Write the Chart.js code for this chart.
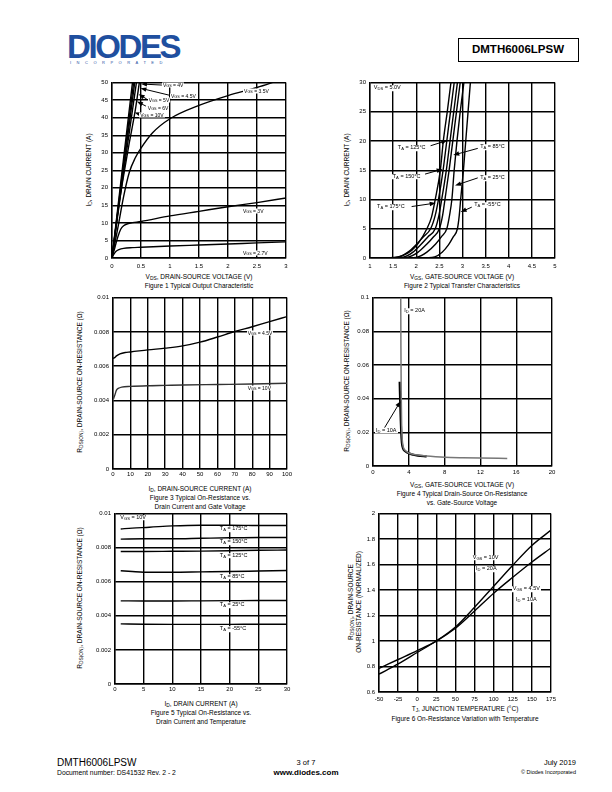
<!DOCTYPE html>
<html>
<head>
<meta charset="utf-8">
<script src="https://cdn.jsdelivr.net/npm/chart.js@4.4.1/dist/chart.umd.min.js"></script>
<style>
body { margin:0; width:612px; height:792px; position:relative; background:#fff; color:#000;
       font-family:"Liberation Sans", Arial, sans-serif; overflow:hidden; }
canvas { position:absolute; }
.t { position:absolute; white-space:nowrap; line-height:1; }
.c { transform:translate(-50%,-50%); }
.r { transform:translate(-50%,-50%) rotate(-90deg); }
.ax { font-size:6.5px; }
.lab { position:absolute; white-space:nowrap; line-height:1; background:#fff; padding:0 1px; transform:translateY(-50%); }
sub { font-size:75%; vertical-align:-0.25em; line-height:0; }
</style>
</head>
<body>

<!-- header -->
<div class="t" style="left:67px;top:29.5px;font-size:33px;font-weight:bold;color:#1f4f9f;letter-spacing:-2.4px;">DIODES</div>
<div class="t" style="left:70px;top:61px;font-size:4px;color:#1f4f9f;letter-spacing:5.5px;">INCORPORATED</div>
<div style="position:absolute;left:458px;top:38px;width:119px;height:22px;border:1px solid #000;"></div>
<div class="t c" style="left:518px;top:50px;font-size:11.5px;font-weight:bold;">DMTH6006LPSW</div>

<!-- axis titles and captions -->
<div class="t c ax" style="left:199px;top:277px;">V<sub>DS</sub>, DRAIN-SOURCE VOLTAGE (V)</div>
<div class="t c ax" style="left:199px;top:286px;">Figure 1 Typical Output Characteristic</div>
<div class="t r ax" style="left:89px;top:170px;">I<sub>D</sub>, DRAIN CURRENT (A)</div>

<div class="t c ax" style="left:462px;top:277px;">V<sub>GS</sub>, GATE-SOURCE VOLTAGE (V)</div>
<div class="t c ax" style="left:462px;top:286px;">Figure 2 Typical Transfer Characteristics</div>
<div class="t r ax" style="left:347px;top:170px;">I<sub>D</sub>, DRAIN CURRENT (A)</div>

<div class="t c ax" style="left:200px;top:489px;">I<sub>D</sub>, DRAIN-SOURCE CURRENT (A)</div>
<div class="t c ax" style="left:200px;top:498px;">Figure 3 Typical On-Resistance vs.</div>
<div class="t c ax" style="left:200px;top:507px;">Drain Current and Gate Voltage</div>
<div class="t r ax" style="left:80px;top:382px;">R<sub>DS(ON)</sub>, DRAIN-SOURCE ON-RESISTANCE (Ω)</div>

<div class="t c ax" style="left:462px;top:485px;">V<sub>GS</sub>, GATE-SOURCE VOLTAGE (V)</div>
<div class="t c ax" style="left:462px;top:494px;">Figure 4 Typical Drain-Source On-Resistance</div>
<div class="t c ax" style="left:462px;top:503px;">vs. Gate-Source Voltage</div>
<div class="t r ax" style="left:347px;top:381px;">R<sub>DS(ON)</sub>, DRAIN-SOURCE ON-RESISTANCE (Ω)</div>

<div class="t c ax" style="left:201px;top:704px;">I<sub>D</sub>, DRAIN CURRENT (A)</div>
<div class="t c ax" style="left:201px;top:713px;">Figure 5 Typical On-Resistance vs.</div>
<div class="t c ax" style="left:201px;top:722px;">Drain Current and Temperature</div>
<div class="t r ax" style="left:80px;top:598px;">R<sub>DS(ON)</sub>, DRAIN-SOURCE ON-RESISTANCE (Ω)</div>

<div class="t c ax" style="left:465px;top:709px;">T<sub>J</sub>, JUNCTION TEMPERATURE (°C)</div>
<div class="t c ax" style="left:465px;top:719px;">Figure 6 On-Resistance Variation with Temperature</div>
<div class="t r ax" style="left:351px;top:602px;">R<sub>DS(ON)</sub>, DRAIN-SOURCE</div>
<div class="t r ax" style="left:359px;top:602px;">ON-RESISTANCE (NORMALIZED)</div>

<!-- footer -->
<div class="t" style="left:57px;top:758px;font-size:10px;">DMTH6006LPSW</div>
<div class="t" style="left:57px;top:769.5px;font-size:6.8px;">Document number: DS41532 Rev. 2 - 2</div>
<div class="t c" style="left:306px;top:763px;font-size:7.5px;">3 of 7</div>
<div class="t c" style="left:306px;top:773px;font-size:8px;font-weight:bold;">www.diodes.com</div>
<div class="t" style="right:36px;top:759px;font-size:7.5px;">July 2019</div>
<div class="t" style="right:36px;top:770px;font-size:5.5px;">© Diodes Incorporated</div>

<script>
// ---- Figure 1: output characteristic, [VDS, ID]
const f1xTicks = [0, 0.5, 1, 1.5, 2, 2.5, 3];
const f1yTicks = [0, 5, 10, 15, 20, 25, 30, 35, 40, 45, 50];
const vgs10 = [[0,0],[0.2,28.5],[0.36,51]];
const vgs6  = [[0,0],[0.2,27],[0.38,51]];
const vgs5  = [[0,0],[0.2,25.8],[0.40,51]];
const vgs45 = [[0,0],[0.2,24.5],[0.43,51]];
const vgs4  = [[0,0],[0.1,13],[0.2,23.5],[0.3,33],[0.4,42],[0.48,51]];
const vgs35 = [[0,0],[0.1,8.5],[0.2,17.5],[0.3,24.5],[0.4,28.5],[0.5,31.3],[0.7,35.7],[1,39.7],[1.5,43.5],[2,46.3],[2.5,48.6],[2.85,50.5]];
const vgs3  = [[0,0],[0.05,3],[0.1,6],[0.15,8.2],[0.2,9.2],[0.3,9.9],[0.5,10.4],[1,12],[1.5,13.3],[2,14.6],[2.5,15.8],[3,17.1]];
const vgs27 = [[0,0],[0.03,1],[0.07,1.9],[0.12,2.4],[0.2,2.75],[0.35,2.95],[0.5,3.05],[1,3.4],[1.5,3.7],[2,4.0],[2.5,4.3],[3,4.6]];

// ---- Figure 2: transfer characteristic, [VGS, ID]
const f2xTicks = [1, 1.5, 2, 2.5, 3, 3.5, 4, 4.5, 5];
const f2yTicks = [0, 5, 10, 15, 20, 25, 30];
const ta175 = [[1.3,0],[1.5,0.08],[1.7,0.4],[1.9,1.3],[2.05,2.6],[2.23,5],[2.33,7],[2.41,10],[2.52,15],[2.585,20],[2.67,25],[2.75,30]];
const ta150 = [[1.4,0],[1.6,0.1],[1.82,1],[2.0,2.3],[2.15,3.6],[2.31,5],[2.41,7.3],[2.48,10],[2.58,15],[2.66,20],[2.74,25],[2.82,30]];
const ta125 = [[1.5,0],[1.7,0.1],[1.93,1],[2.1,2.3],[2.25,3.6],[2.41,5],[2.49,7.3],[2.55,10],[2.65,15],[2.73,20],[2.81,25],[2.89,30]];
const ta85  = [[1.6,0],[1.8,0.1],[2.04,1],[2.22,2.3],[2.37,3.6],[2.5,5],[2.57,7.3],[2.62,10],[2.71,15],[2.79,20],[2.87,25],[2.95,30]];
const ta25  = [[1.8,0],[2.0,0.1],[2.23,1],[2.42,2.4],[2.55,3.7],[2.66,5],[2.72,7.3],[2.77,10],[2.82,15],[2.88,20],[2.95,25],[3.03,30]];
const tam55 = [[2.2,0],[2.4,0.2],[2.56,1],[2.7,2.3],[2.8,3.6],[2.89,5],[2.93,7.3],[2.96,10],[3.02,15],[3.07,20],[3.12,25],[3.17,30]];

// ---- Figure 3: RDS(ON) vs ID, [ID, R]
const f3xTicks = [0, 10, 20, 30, 40, 50, 60, 70, 80, 90, 100];
const f3yTicks = [0, 0.002, 0.004, 0.006, 0.008, 0.01];
const ron45 = [[0,0.00645],[1,0.0065],[2,0.0066],[4,0.00672],[7,0.0068],[10,0.00683],[20,0.00695],[30,0.00705],[40,0.00718],[50,0.0074],[60,0.0077],[70,0.00802],[80,0.0083],[90,0.0086],[100,0.00889]];
const ron10 = [[0.3,0.0041],[1,0.0043],[2,0.0046],[3,0.0047],[5,0.00478],[10,0.00482],[20,0.00486],[30,0.00488],[40,0.0049],[60,0.00493],[80,0.00496],[100,0.005]];

// ---- Figure 4: RDS(ON) vs VGS, [VGS, R]
const f4xTicks = [0, 4, 8, 12, 16, 20];
const f4yTicks = [0, 0.02, 0.04, 0.06, 0.08, 0.1];
const id20 = [[3.1,0.1],[3.12,0.07],[3.15,0.045],[3.2,0.025],[3.28,0.015],[3.4,0.011],[3.7,0.0088],[4,0.0077],[4.5,0.007],[5,0.0065],[6,0.0059],[7,0.0055],[8,0.0052],[10,0.0049],[12,0.0047],[15,0.0045]];
const id10 = [[2.98,0.05],[3.0,0.045],[3.05,0.035],[3.1,0.027],[3.15,0.02],[3.22,0.014],[3.35,0.0105],[3.6,0.0088],[4,0.0075],[4.5,0.0067],[5,0.0062],[6,0.0057]];

// ---- Figure 5: RDS(ON) vs ID and temperature, [ID, R]
const f5xTicks = [0, 5, 10, 15, 20, 25, 30];
const f5yTicks = [0, 0.002, 0.004, 0.006, 0.008, 0.01];
const r175 = [[1,0.0091],[3,0.00915],[6,0.0092],[10,0.00928],[15,0.00932],[20,0.00932],[25,0.0093],[30,0.0093]];
const r150 = [[1,0.0085],[5,0.00852],[10,0.00852],[15,0.00855],[20,0.00858],[25,0.0086],[30,0.0086]];
const r125 = [[1,0.00778],[5,0.00778],[10,0.00779],[15,0.0078],[20,0.00782],[25,0.00785],[30,0.00786]];
const r85  = [[1,0.00665],[3,0.0066],[5,0.00656],[10,0.00656],[15,0.00658],[20,0.0066],[25,0.00663],[30,0.00666]];
const r25  = [[1,0.00488],[5,0.00487],[10,0.00487],[15,0.00488],[20,0.00489],[25,0.0049],[30,0.0049]];
const rm55 = [[1,0.00353],[5,0.00351],[10,0.0035],[15,0.0035],[20,0.0035],[25,0.00351],[30,0.00351]];

// ---- Figure 6: normalized RDS(ON) vs TJ, [TJ, norm]
const f6xTicks = [-50, -25, 0, 25, 50, 75, 100, 125, 150, 175];
const f6yTicks = [0.6, 0.8, 1, 1.2, 1.4, 1.6, 1.8, 2];
const n10 = [[-50,0.74],[-25,0.82],[0,0.91],[25,1.0],[50,1.11],[75,1.265],[100,1.43],[125,1.595],[150,1.75],[175,1.87]];
const n45 = [[-50,0.785],[-25,0.855],[0,0.925],[25,1.0],[50,1.1],[75,1.235],[100,1.375],[125,1.5],[150,1.62],[175,1.73]];

// arrows: [fromX, fromY, toX, toY] in data units, head at "to"
var arrowPlugin = {
    id: 'arrows',
    afterDatasetsDraw: function (chart, args, opts) {
        var ctx = chart.ctx, xs = chart.scales.x, ys = chart.scales.y;
        (opts.list || []).forEach(function (a) {
            var x1 = xs.getPixelForValue(a[0]), y1 = ys.getPixelForValue(a[1]);
            var x2 = xs.getPixelForValue(a[2]), y2 = ys.getPixelForValue(a[3]);
            var ang = Math.atan2(y2 - y1, x2 - x1), c = Math.cos(ang), s = Math.sin(ang);
            ctx.save();
            ctx.strokeStyle = '#000'; ctx.fillStyle = '#000'; ctx.lineWidth = 1;
            ctx.beginPath(); ctx.moveTo(x1, y1); ctx.lineTo(x2 - 4 * c, y2 - 4 * s); ctx.stroke();
            ctx.beginPath(); ctx.moveTo(x2, y2);
            ctx.lineTo(x2 - 6 * c + 2.3 * s, y2 - 6 * s - 2.3 * c);
            ctx.lineTo(x2 - 6 * c - 2.3 * s, y2 - 6 * s + 2.3 * c);
            ctx.closePath(); ctx.fill();
            ctx.restore();
        });
    }
};

function axis(ticks, pad, fit) {
    return {
        type: 'linear', min: ticks[0], max: ticks[ticks.length - 1],
        afterBuildTicks: function (s) { s.ticks = ticks.map(function (v) { return { value: v }; }); },
        afterFit: fit,
        grid: { color: '#000', lineWidth: 1.4, drawTicks: false },
        border: { color: '#000', width: 1.4 },
        ticks: { color: '#000', font: { family: 'Liberation Sans', size: 6 }, padding: pad,
                 autoSkip: false, maxRotation: 0, callback: function (v) { return String(v); } }
    };
}

function plot(area, xTicks, yTicks, xpad, series, labels, arrows, labSize) {
    var yw = 30, pt = 6, pr = 12, xh = 14;
    var L = area[0], T = area[1], R = area[2], B = area[3];
    var cv = document.createElement('canvas');
    cv.width = R - L + yw + pr; cv.height = B - T + pt + xh;
    cv.style.left = (L - yw) + 'px'; cv.style.top = (T - pt) + 'px';
    document.body.appendChild(cv);

    var chart = new Chart(cv.getContext('2d'), {
        type: 'scatter',
        data: {
            datasets: series.map(function (s) {
                return {
                    data: s[0].map(function (p) { return { x: p[0], y: p[1] }; }),
                    showLine: true, pointRadius: 0, borderColor: s[1] || '#000',
                    borderWidth: s[2] || 1.4, cubicInterpolationMode: 'monotone', fill: false
                };
            })
        },
        options: {
            responsive: false, animation: false, devicePixelRatio: 1,
            layout: { padding: { top: pt, right: pr, left: 0, bottom: 0 } },
            scales: {
                x: axis(xTicks, xpad, function (s) { s.height = xh; }),
                y: axis(yTicks, 4, function (s) { s.width = yw; })
            },
            plugins: { legend: { display: false }, tooltip: { enabled: false }, arrows: { list: arrows } }
        },
        plugins: [arrowPlugin]
    });

    labels.forEach(function (lb) {
        var d = document.createElement('div');
        d.className = 'lab';
        d.style.fontSize = labSize + 'px';
        d.style.left = (L - yw + chart.scales.x.getPixelForValue(lb[0])) + 'px';
        d.style.top = (T - pt + chart.scales.y.getPixelForValue(lb[1])) + 'px';
        d.innerHTML = lb[2];
        document.body.appendChild(d);
    });
    return chart;
}

plot([112, 81, 286, 258], f1xTicks, f1yTicks, 5,
    [[vgs27], [vgs3], [vgs35], [vgs4], [vgs45], [vgs5], [vgs6], [vgs10]],
    [[0.86, 49.4, 'V<sub>GS</sub> = 4V'], [1.0, 46.3, 'V<sub>GS</sub> = 4.5V'], [0.615, 44.9, 'V<sub>GS</sub> = 5V'],
     [0.60, 42.9, 'V<sub>GS</sub> = 6V'], [0.47, 40.9, 'V<sub>GS</sub> = 10V'], [2.26, 47.5, 'V<sub>GS</sub> = 3.5V'],
     [2.24, 13.3, 'V<sub>GS</sub> = 3V'], [2.24, 1.4, 'V<sub>GS</sub> = 2.7V']],
    [[0.86, 49.3, 0.5, 49.6], [0.99, 46.4, 0.49, 48.4], [0.6, 45.3, 0.46, 46.7], [0.585, 43.3, 0.43, 44.6], [0.46, 41.1, 0.39, 41.5]],
    5);

plot([370, 81, 555, 258], f2xTicks, f2yTicks, 5,
    [[ta175], [ta150], [ta125], [ta85], [ta25], [tam55]],
    [[1.06, 29.0, 'V<sub>DS</sub> = 5.0V'], [1.58, 18.8, 'T<sub>A</sub> = 125°C'], [3.36, 18.9, 'T<sub>A</sub> = 85°C'],
     [1.47, 13.9, 'T<sub>A</sub> = 150°C'], [3.36, 13.6, 'T<sub>A</sub> = 25°C'], [1.13, 8.7, 'T<sub>A</sub> = 175°C'],
     [3.23, 9.0, 'T<sub>A</sub> = -55°C']],
    [[2.31, 19.2, 2.67, 20.1], [3.33, 18.75, 2.80, 17.6], [2.19, 14.35, 2.57, 15.2], [3.33, 13.7, 2.84, 12.4],
     [1.9, 8.8, 2.42, 9.4], [3.2, 8.7, 2.96, 7.85]],
    5.5);

plot([113, 296, 287, 469], f3xTicks, f3yTicks, 2,
    [[ron45], [ron10, '#333']],
    [[76.8, 0.00794, 'V<sub>GS</sub> = 4.5V'], [76.8, 0.0047, 'V<sub>GS</sub> = 10V']],
    [], 5);

plot([373, 296, 552, 466], f4xTicks, f4yTicks, 3,
    [[id20, '#777', 1.5], [id10, '#000', 2.2]],
    [[3.39, 0.0918, 'I<sub>D</sub> = 20A'], [0.22, 0.0208, 'I<sub>D</sub> = 10A']],
    [[1.3, 0.0228, 3.08, 0.0385]], 5.5);

plot([115, 512, 287, 684], f5xTicks, f5yTicks, 2,
    [[r175], [r150], [r125], [r85], [r25], [rm55]],
    [[0.75, 0.00977, 'V<sub>GS</sub> = 10V'], [18.1, 0.00909, 'T<sub>A</sub> = 175°C'], [18.1, 0.00831, 'T<sub>A</sub> = 150°C'],
     [18.1, 0.00754, 'T<sub>A</sub> = 125°C'], [18.1, 0.00628, 'T<sub>A</sub> = 85°C'], [18.1, 0.00463, 'T<sub>A</sub> = 25°C'],
     [18.1, 0.0032, 'T<sub>A</sub> = -55°C']],
    [], 5.5);

plot([379, 512, 551, 692], f6xTicks, f6yTicks, 4,
    [[n10], [n45]],
    [[71.3, 1.652, 'V<sub>GS</sub> = 10V'], [75.6, 1.562, 'I<sub>D</sub> = 20A'],
     [123.6, 1.407, 'V<sub>GS</sub> = 4.5V'], [128, 1.323, 'I<sub>D</sub> = 10A']],
    [], 5.5);
</script>
</body>
</html>
